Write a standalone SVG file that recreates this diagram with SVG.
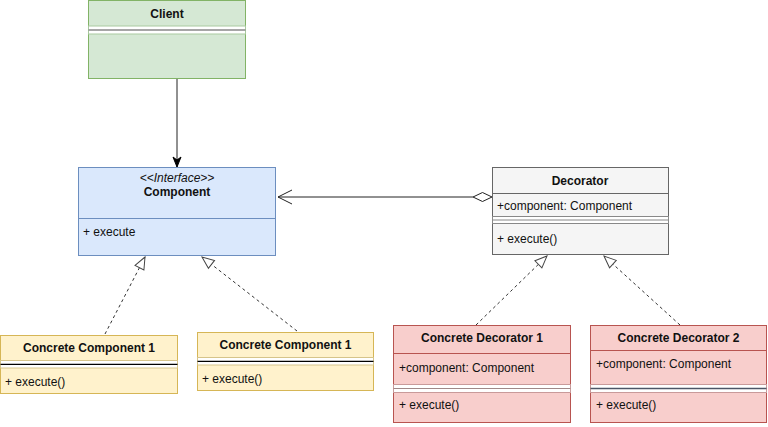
<svg xmlns="http://www.w3.org/2000/svg" width="768" height="427" viewBox="0 0 768 427">
<defs>
<style>
text{font-family:"Liberation Sans",Arial,Helvetica,sans-serif;font-size:12px;fill:#111}
.t{font-weight:bold;text-anchor:middle}
.it{font-style:italic;text-anchor:middle}
.green{fill:#d5e8d4;stroke:#82b366}
.blue{fill:#dae8fc;stroke:#6c8ebf}
.gray{fill:#f5f5f5;stroke:#666666}
.yellow{fill:#fff2cc;stroke:#d6b656}
.red{fill:#f8cecc;stroke:#b85450}
.band{fill:#ffffff}
.edge{fill:none;stroke:#222;stroke-width:1}
.dash{fill:none;stroke:#333;stroke-width:1;stroke-dasharray:3 3}
</style>
<marker id="block" markerUnits="userSpaceOnUse" markerWidth="12" markerHeight="10" viewBox="0 0 12 10" refX="11" refY="5" orient="auto">
<path d="M1,1 L11,5 L1,9 L4,5 Z" fill="#000" stroke="#000"/>
</marker>
<marker id="tri" markerUnits="userSpaceOnUse" markerWidth="16" markerHeight="14" viewBox="0 0 16 14" refX="14" refY="7" orient="auto">
<path d="M2,2 L14,7 L2,12 Z" fill="#fff" stroke="#444"/>
</marker>
</defs>
<rect width="768" height="427" fill="#ffffff"/>

<g id="connectors">
<line class="edge" x1="177" y1="79" x2="177" y2="167" marker-end="url(#block)"/>
<line class="edge" x1="473" y1="197" x2="278" y2="197"/>
<polyline class="edge" points="292,190 278,197 292,204"/>
<polygon points="492,197 482.5,192.5 473,197 482.5,201.5" fill="#fff" stroke="#222"/>
<line class="dash" x1="105" y1="334" x2="145" y2="257" marker-end="url(#tri)"/>
<line class="dash" x1="297" y1="331" x2="202" y2="257" marker-end="url(#tri)"/>
<line class="dash" x1="476" y1="325" x2="547" y2="256" marker-end="url(#tri)"/>
<line class="dash" x1="680" y1="325" x2="604" y2="256" marker-end="url(#tri)"/>
</g>

<g id="client">
<rect class="green" x="88.5" y="0.5" width="157" height="78"/>
<text class="t" x="167" y="18">Client</text>
<rect class="band" x="88.5" y="26" width="157" height="8" stroke="#a9c99f"/>
<line x1="88.5" y1="30" x2="245.5" y2="30" stroke="#888" stroke-width="1.5"/>
</g>

<g id="component">
<rect class="blue" x="78.5" y="167.5" width="197" height="88"/>
<text class="it" x="177" y="182">&lt;&lt;Interface&gt;&gt;</text>
<text class="t" x="177" y="196">Component</text>
<line x1="78.5" y1="218.5" x2="275.5" y2="218.5" stroke="#6c8ebf"/>
<text x="83" y="236">+ execute</text>
</g>

<g id="decorator">
<rect class="gray" x="492.5" y="167.5" width="176" height="87"/>
<text class="t" x="580" y="185">Decorator</text>
<line x1="492.5" y1="193.5" x2="668.5" y2="193.5" stroke="#666"/>
<text x="497" y="210">+component: Component</text>
<rect class="band" x="492.5" y="216.5" width="176" height="7" stroke="#888"/>
<line x1="492.5" y1="220" x2="668.5" y2="220" stroke="#888"/>
<text x="497" y="243">+ execute()</text>
</g>

<g id="concrete-component-1a">
<rect class="yellow" x="0.5" y="335.5" width="177" height="58"/>
<text class="t" x="89" y="352">Concrete Component 1</text>
<rect class="band" x="0.5" y="360.5" width="177" height="7.5" stroke="#d6c48a"/>
<line x1="0.5" y1="364.3" x2="177.5" y2="364.3" stroke="#000" stroke-width="1.3"/>
<text x="5" y="386">+ execute()</text>
</g>

<g id="concrete-component-1b">
<rect class="yellow" x="197.5" y="332.5" width="176" height="58"/>
<text class="t" x="285.5" y="349">Concrete Component 1</text>
<rect class="band" x="197.5" y="357.5" width="176" height="7.5" stroke="#d6c48a"/>
<line x1="197.5" y1="361.3" x2="373.5" y2="361.3" stroke="#000" stroke-width="1.3"/>
<text x="202" y="383">+ execute()</text>
</g>

<g id="concrete-decorator-1">
<rect class="red" x="393.5" y="325.5" width="177" height="97"/>
<text class="t" x="482" y="342">Concrete Decorator 1</text>
<line x1="393.5" y1="353.5" x2="570.5" y2="353.5" stroke="#b85450"/>
<text x="399" y="372">+component: Component</text>
<rect class="band" x="393.5" y="384.5" width="177" height="8" stroke="#c99a9a"/>
<line x1="393.5" y1="388.5" x2="570.5" y2="388.5" stroke="#a08888"/>
<text x="399" y="409">+ execute()</text>
</g>

<g id="concrete-decorator-2">
<rect class="red" x="590.5" y="325.5" width="176" height="97"/>
<text class="t" x="678.5" y="342">Concrete Decorator 2</text>
<line x1="590.5" y1="350.5" x2="766.5" y2="350.5" stroke="#b85450"/>
<text x="596" y="368">+component: Component</text>
<rect class="band" x="590.5" y="384.5" width="176" height="8" stroke="#c99a9a"/>
<line x1="590.5" y1="388.5" x2="766.5" y2="388.5" stroke="#4d5566" stroke-width="1.3"/>
<text x="596" y="409">+ execute()</text>
</g>
</svg>
